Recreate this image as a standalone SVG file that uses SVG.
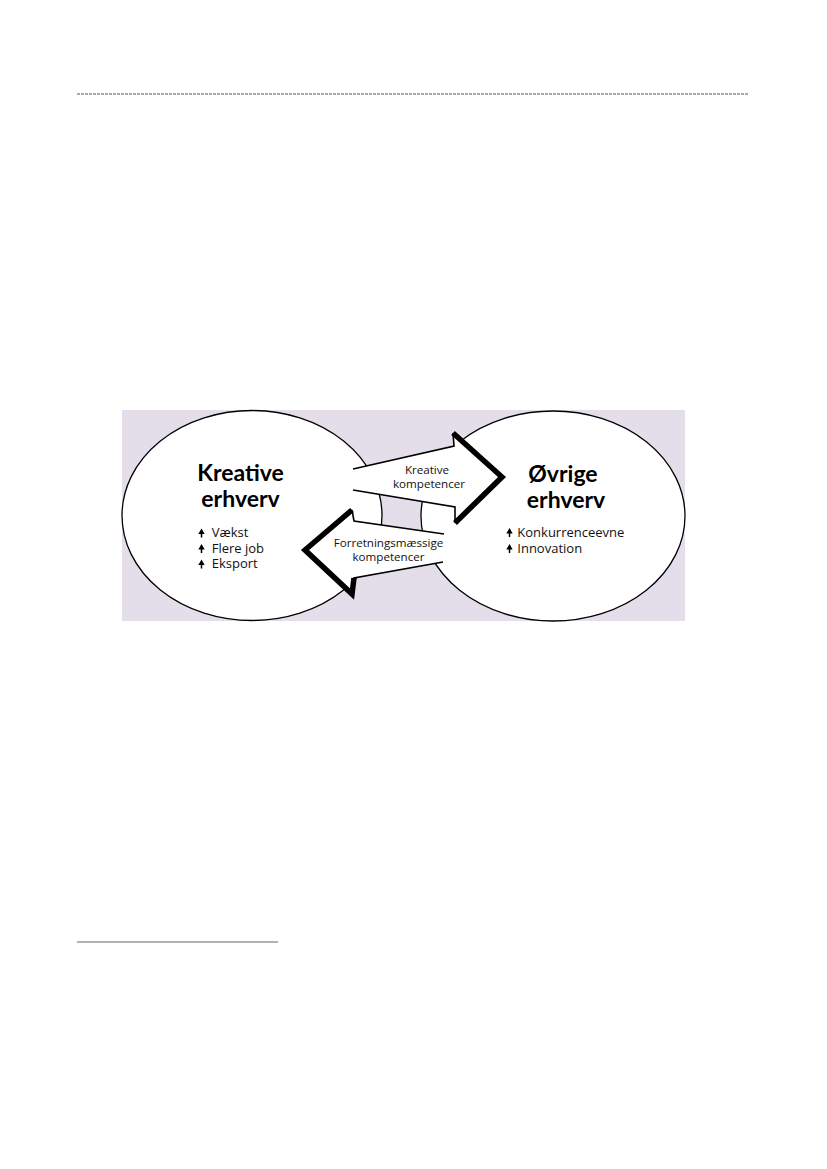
<svg xmlns="http://www.w3.org/2000/svg" width="827" height="1169" viewBox="0 0 827 1169">
<defs>
<style>
.ell{fill:#fff;stroke:#000;stroke-width:1.3}
.fill{fill:#fff;stroke:none}
.thin{fill:none;stroke:#000;stroke-width:1.6;stroke-linejoin:miter}
.thick{fill:none;stroke:#000;stroke-width:5.5;stroke-linejoin:miter;stroke-miterlimit:10}
.h{font-family:Lato,"Open Sans",sans-serif;font-weight:bold;font-size:23px;text-anchor:middle;fill:#000}
.b{font-family:"Open Sans",Lato,sans-serif;font-size:13px;fill:#111}
.l{font-family:"Open Sans",Lato,sans-serif;font-size:11.6px;text-anchor:middle;fill:#111}
.ico{fill:#000}
</style>
<path id="up" d="M0,0 L3.2,5.4 L0.75,5.4 L0.75,9 L-0.75,9 L-0.75,5.4 L-3.2,5.4 Z"/>
</defs>
<rect width="827" height="1169" fill="#fff"/>
<line x1="77" y1="94" x2="749" y2="94" stroke="#555" stroke-width="1" stroke-dasharray="3 1"/>
<line x1="77" y1="942" x2="278" y2="942" stroke="#666" stroke-width="1.2"/>
<rect id="background" x="122" y="410" width="563" height="211" fill="#e4deeb"/>
<g id="node-kreative">
<ellipse class="ell" cx="252" cy="515.5" rx="130" ry="105"/>
<text class="h" x="240.5" y="481">Kreative</text>
<text class="h" x="240.5" y="507">erhverv</text>
<use href="#up" class="ico" x="201.5" y="528.5"/>
<text class="b" x="211.7" y="537.3">Vækst</text>
<use href="#up" class="ico" x="201.5" y="544"/>
<text class="b" x="211.7" y="552.7">Flere job</text>
<use href="#up" class="ico" x="201.5" y="559.5"/>
<text class="b" x="211.7" y="568">Eksport</text>
</g>
<g id="node-ovrige">
<ellipse class="ell" cx="553" cy="516" rx="132" ry="105"/>
<text class="h" x="563" y="482">Øvrige</text>
<text class="h" x="566" y="508">erhverv</text>
<use href="#up" class="ico" x="509.5" y="528"/>
<text class="b" x="517.3" y="537">Konkurrenceevne</text>
<use href="#up" class="ico" x="509.5" y="544"/>
<text class="b" x="517.3" y="553">Innovation</text>
</g>
<g id="connectors">
<g id="arrow-kreative-kompetencer">
<polygon class="fill" points="353,469 454,446 453,433 502,477 455,523 455,507 353,490"/>
<polyline class="thin" points="353,469 454,446 453,433"/>
<polyline class="thin" points="353,490 455,507 455,523"/>
<polyline class="thick" points="453,433 502,477 455,523"/>
<text class="l" x="427" y="474">Kreative</text>
<text class="l" x="429" y="487.7">kompetencer</text>
</g>
<g id="arrow-forretningsmaessige">
<polygon class="fill" points="444,534 354,521 352,510 305,550 352,594 354,578 443,562"/>
<polyline class="thin" points="444,534 354,521 352,510"/>
<polyline class="thin" points="443,562 354,578 352,594"/>
<polyline class="thick" points="352,510 305,550 352,594 354,578"/>
<text class="l" x="388.5" y="546.7">Forretningsmæssige</text>
<text class="l" x="388.5" y="560.7">kompetencer</text>
</g>
</g>
</svg>
